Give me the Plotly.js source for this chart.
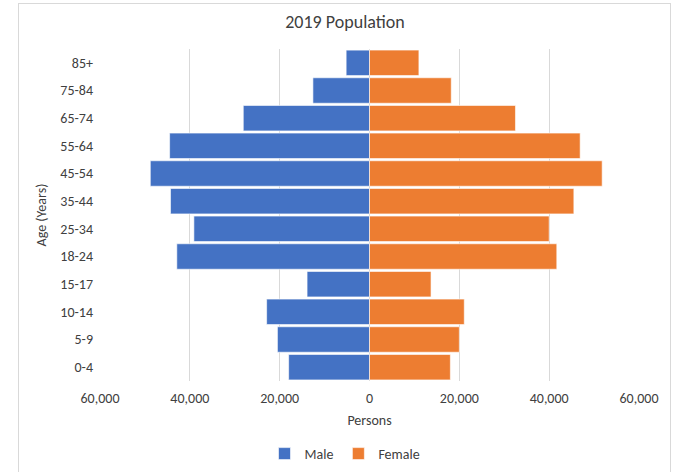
<!DOCTYPE html>
<html>
<head>
<meta charset="utf-8">
<script src="https://cdn.plot.ly/plotly-3.0.1.min.js"></script>
<style>
  html, body { margin: 0; padding: 0; background: #fff; }
  #wrap { position: relative; width: 673px; height: 472px; overflow: hidden; }
  #chart { width: 673px; height: 472px; }
  #frame { position: absolute; left: 18px; top: 3px; width: 653px; height: 490px;
           border: 1px solid #d9d9d9; pointer-events: none; box-sizing: border-box; }
</style>
</head>
<body>
<div id="wrap">
  <div id="chart"></div>
  <div id="frame"></div>
</div>
<script>
const ageGroups = ["0-4", "5-9", "10-14", "15-17", "18-24", "25-34", "35-44", "45-54", "55-64", "65-74", "75-84", "85+"];
const male   = [18000, 20500, 22900, 13900, 42900, 39100, 44300, 48800, 44500, 28100, 12600, 5200];
const female = [18000, 20000, 21100, 13700, 41700, 40000, 45500, 51800, 46900, 32500, 18200, 11000];
const tickValues = [-60000, -40000, -20000, 0, 20000, 40000, 60000];
const tickLabels = ["60,000", "40,000", "20,000", "0", "20,000", "40,000", "60,000"];

const fontFam = "Carlito, Lato, 'Open Sans', sans-serif";
const txt = "#404040";

const traces = [
  {
    type: "bar", orientation: "h", name: "Male",
    y: ageGroups, x: male.map(v => -v), customdata: male,
    hovertemplate: "%{y}: %{customdata:,}<extra>Male</extra>",
    marker: { color: "#4472C4", line: { color: "#ffffff", width: 0.6 } }
  },
  {
    type: "bar", orientation: "h", name: "Female",
    y: ageGroups, x: female,
    hovertemplate: "%{y}: %{x:,}<extra>Female</extra>",
    marker: { color: "#ED7D31", line: { color: "#ffffff", width: 0.6 } }
  }
];

const layout = {
  width: 673, height: 472,
  margin: { l: 100, r: 34, t: 49, b: 91 },
  paper_bgcolor: "#ffffff", plot_bgcolor: "#ffffff",
  font: { family: fontFam, size: 14, color: txt },
  title: {
    text: "2019 Population",
    font: { family: fontFam, size: 18, color: txt },
    x: 345 / 673, xref: "container", xanchor: "center",
    y: 1 - 22 / 472, yref: "container", yanchor: "middle"
  },
  barmode: "relative",
  bargap: 0.08,
  xaxis: {
    range: [-60000, 60000],
    tickvals: tickValues, ticktext: tickLabels,
    showgrid: true, gridcolor: "#d9d9d9", gridwidth: 1,
    zeroline: false, showline: false, ticks: "",
    ticklabelstandoff: 7,
    tickfont: { size: 14, color: txt },
    title: { text: "Persons", font: { size: 14, color: txt }, standoff: 9 }
  },
  yaxis: {
    type: "category",
    categoryorder: "array", categoryarray: ageGroups,
    showgrid: false, zeroline: false, showline: false, ticks: "",
    ticklabelstandoff: 6,
    tickfont: { size: 14, color: txt },
    title: { text: "Age (Years)", font: { size: 14, color: txt }, standoff: 10 }
  },
  showlegend: true,
  legend: {
    orientation: "h",
    x: 345 / 673, xref: "container", xanchor: "center",
    y: 1 - 454 / 472, yref: "container", yanchor: "middle",
    font: { size: 14, color: txt },
    itemwidth: 30,
    traceorder: "normal"
  }
};

Plotly.newPlot("chart", traces, layout, { displayModeBar: false, responsive: false });
</script>
</body>
</html>
